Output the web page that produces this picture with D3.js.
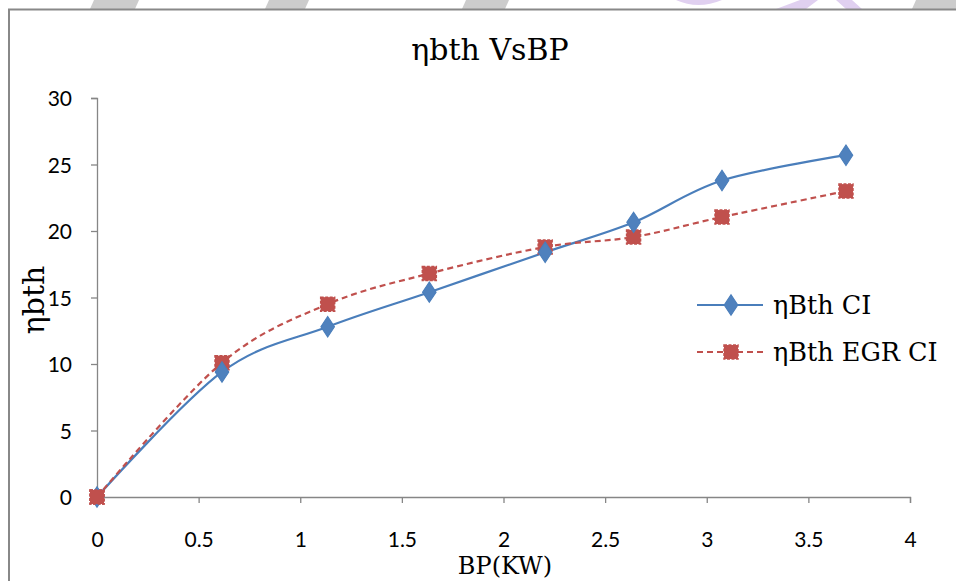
<!DOCTYPE html>
<html>
<head>
<meta charset="utf-8">
<script src="https://cdn.jsdelivr.net/npm/d3@7"></script>
<style>
  body { margin: 0; background: #fff; }
  svg { display: block; }
</style>
</head>
<body>
<script>
// values
var bp      = [0, 0.615, 1.135, 1.635, 2.205, 2.64, 3.075, 3.685];
var bthCI   = [0, 9.4, 12.8, 15.4, 18.4, 20.65, 23.8, 25.7];
var bthEGR  = [0, 10.1, 14.5, 16.8, 18.8, 19.55, 21.05, 23.0];
var xTicks  = [0, 0.5, 1, 1.5, 2, 2.5, 3, 3.5, 4];
var yTicks  = [0, 5, 10, 15, 20, 25, 30];
var seriesNames = ["ηBth CI", "ηBth EGR CI"];

var width = 956, height = 581;
var svg = d3.select("body").append("svg").attr("width", width).attr("height", height);

svg.append("rect").attr("width", width).attr("height", height).attr("fill", "#fff");

// faint watermark strip above the frame
var strip = svg.append("g");
[[90, 135], [265, 305], [462, 505], [912, 960]].forEach(function (s) {
  strip.append("polygon")
    .attr("points", (s[0]+4) + ",0 " + (s[1]+4) + ",0 " + s[1] + ",9 " + s[0] + ",9")
    .attr("fill", "#cccccc");
});
strip.append("path").attr("d", "M676,0 Q698,10 722,0 Z").attr("fill", "#e0d0f0");
strip.append("polygon").attr("points", "776,9 800,0 818,0 806,9").attr("fill", "#e0d0f0");
strip.append("polygon").attr("points", "836,0 852,0 862,9 846,9").attr("fill", "#e0d0f0");

// chart frame
svg.append("rect").attr("x", 9).attr("y", 9.5).attr("width", 960).attr("height", 600)
  .attr("fill", "#fff").attr("stroke", "#888").attr("stroke-width", 2);

var x = d3.scaleLinear().domain([0, 4]).range([97, 910]);
var y = d3.scaleLinear().domain([0, 30]).range([497, 98]);

var axisColor = "#868686";
var xAxis = svg.append("g").attr("transform", "translate(0,497)")
  .call(d3.axisBottom(x).tickValues(xTicks).tickSize(6).tickPadding(29).tickFormat(d3.format("")));
var yAxis = svg.append("g").attr("transform", "translate(97,0)")
  .call(d3.axisLeft(y).tickValues(yTicks).tickSize(6).tickPadding(19));
[xAxis, yAxis].forEach(function (a) {
  a.select(".domain").attr("stroke", axisColor).attr("stroke-width", 1.3);
  a.selectAll(".tick line").attr("stroke", axisColor).attr("stroke-width", 1.3);
  a.selectAll("text").attr("fill", "#000").style("font-family", "Lato, sans-serif").style("font-size", "21px");
});
yAxis.selectAll(".tick text").attr("dy", "0.36em");

// title and axis titles
var serif = "'DejaVu Serif', serif";
svg.append("text").attr("x", 490).attr("y", 60).attr("text-anchor", "middle")
  .style("font-family", serif).style("font-size", "30px").text("ηbth VsBP");
svg.append("text").attr("x", 505).attr("y", 574).attr("text-anchor", "middle")
  .style("font-family", serif).style("font-size", "24px").text("BP(KW)");
svg.append("text").attr("transform", "translate(44,300) rotate(-90)").attr("text-anchor", "middle")
  .style("font-family", serif).style("font-size", "30px").text("ηbth");

var line = d3.line().curve(d3.curveCardinal.tension(0))
  .x(function (d) { return x(d[0]); }).y(function (d) { return y(d[1]); });

var blue = "#4A7EBB", red = "#C0504D";
var ciPts = bp.map(function (v, i) { return [v, bthCI[i]]; });
var egrPts = bp.map(function (v, i) { return [v, bthEGR[i]]; });

svg.append("path").datum(ciPts).attr("d", line).attr("fill", "none")
  .attr("stroke", blue).attr("stroke-width", 2.2);
svg.append("path").datum(egrPts).attr("d", line).attr("fill", "none")
  .attr("stroke", red).attr("stroke-width", 2.2).attr("stroke-dasharray", "6,4");

function diamond(g, cx, cy) {
  g.append("path").attr("d", d3.symbol().type(d3.symbolDiamond).size(120)())
    .attr("transform", "translate(" + cx + "," + cy + ") scale(1.15,1)")
    .attr("fill", "#4F81BD").attr("stroke", "#4A7EBB").attr("stroke-width", 1);
}
function square(g, cx, cy) {
  g.append("rect").attr("x", cx - 7).attr("y", cy - 7).attr("width", 14).attr("height", 14)
    .attr("fill", red).attr("stroke", red).attr("stroke-width", 1.5).attr("stroke-dasharray", "3,1.5");
}

var mk = svg.append("g");
egrPts.forEach(function (d) { square(mk, x(d[0]), y(d[1])); });
ciPts.forEach(function (d) { diamond(mk, x(d[0]), y(d[1])); });
// EGR marker at origin sits on top in the reference
square(mk, x(egrPts[0][0]), y(egrPts[0][1]));

// legend
var lg = svg.append("g");
lg.append("line").attr("x1", 697).attr("x2", 763).attr("y1", 305).attr("y2", 305)
  .attr("stroke", blue).attr("stroke-width", 2.2);
diamond(lg, 731, 305);
lg.append("line").attr("x1", 697).attr("x2", 763).attr("y1", 352).attr("y2", 352)
  .attr("stroke", red).attr("stroke-width", 2.2).attr("stroke-dasharray", "6,4");
square(lg, 731, 352);
lg.selectAll("text.leg").data(seriesNames).enter().append("text")
  .attr("x", 773).attr("y", function (d, i) { return 314 + i * 47; })
  .style("font-family", serif).style("font-size", "25.5px")
  .text(function (d) { return d; });
</script>
</body>
</html>
